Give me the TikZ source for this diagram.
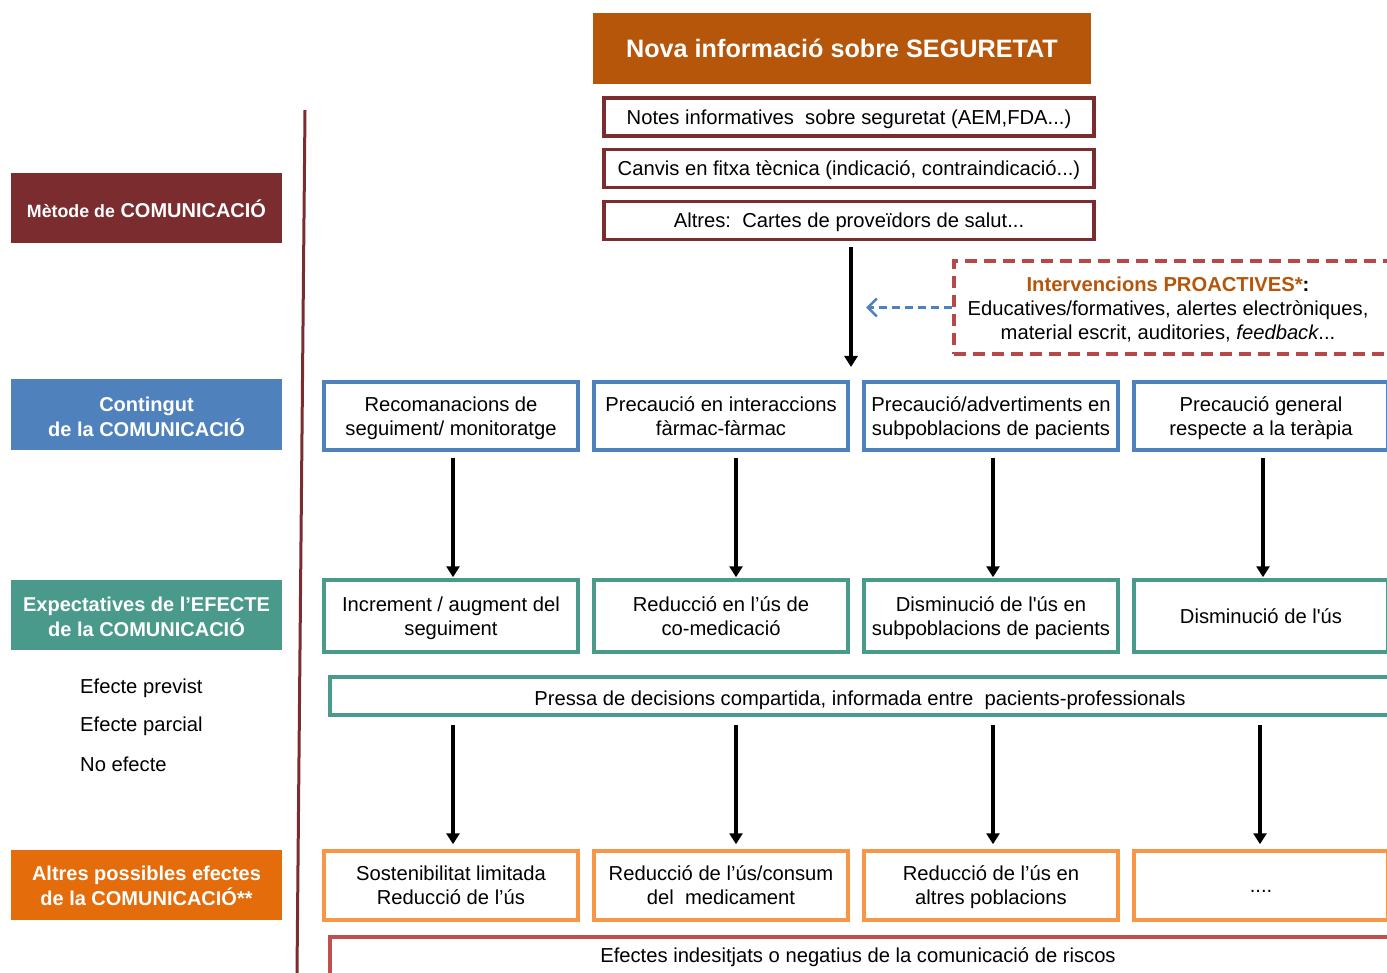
\documentclass[tikz,border=0pt]{standalone}
\usepackage{fontspec}
\setmainfont{Liberation Sans}[Ligatures=TeXOff]
\usetikzlibrary{arrows.meta}

\definecolor{metred}{HTML}{7B2C2F}
\definecolor{conblue}{HTML}{4F81BD}
\definecolor{expteal}{HTML}{4A9A8B}
\definecolor{altorange}{HTML}{E46C0A}
\definecolor{boxorange}{HTML}{F79646}
\definecolor{headbrown}{HTML}{B5560B}
\definecolor{negred}{HTML}{C0504D}
\definecolor{prored}{HTML}{B84848}

% centred lines of text, set a little below the node centre
\newcommand\tl[2][-2.5pt]{\raisebox{#1}[\height][\depth]{\begin{tabular}{@{}c@{}}#2\end{tabular}}}

\tikzset{
  txt/.style={font=\fontsize{20.2}{24}\selectfont, align=center, inner sep=0pt},
  label/.style={fill=#1, text=white, minimum width=271pt, minimum height=70pt,
    align=center, inner sep=0pt, font=\bfseries\fontsize{20}{24}\selectfont},
  metbox/.style={draw=metred, line width=3.5pt, minimum width=490pt, minimum height=38pt, txt},
  colbox/.style={draw=#1, line width=3.5pt, minimum width=254pt, txt},
  widebox/.style={draw=#1, line width=3.5pt, minimum height=38pt},
  flow/.style={line width=3.5pt, -{Triangle[width=13pt,length=11pt]}},
}

\begin{document}
\begin{tikzpicture}[x=1pt,y=-1pt]
\useasboundingbox (0,0) rectangle (1387,973);
\clip (0,0) rectangle (1387,973);

% header
\node[fill=headbrown, text=white, minimum width=498pt, minimum height=71pt, inner sep=0pt,
  font=\bfseries\fontsize{25.2}{30}\selectfont] (head) at (842,48.5) {Nova informació sobre SEGURETAT};

% divider between the row titles and the diagram
\draw[metred, line width=3pt] (305,110) -- (297,973);

% row titles
\node[label=metred] (lmet) at (146.5,208.5) {{\fontsize{17.8}{24}\selectfont Mètode de} COMUNICACIÓ};
\node[label=conblue] (lcon) at (146.5,414.5) {\tl[-4.5pt]{Contingut\\de la COMUNICACIÓ}};
\node[label=expteal] (lexp) at (146.5,614.5) {\tl[-4.5pt]{Expectatives de l’EFECTE\\de la COMUNICACIÓ}};
\node[label=altorange] (lalt) at (146.5,884.5) {\tl[-4pt]{Altres possibles efectes\\de la COMUNICACIÓ**}};

\node[txt, anchor=west] (eprev) at (80,688) {Efecte previst};
\node[txt, anchor=west] (eparc) at (80,726) {Efecte parcial};
\node[txt, anchor=west] (enoef) at (80,764) {No efecte};

% communication methods
\node[metbox] (m1) at (849,117) {\tl{Notes informatives\ \ sobre seguretat (AEM,FDA...)}};
\node[metbox] (m2) at (849,168.5) {\tl{Canvis en fitxa tècnica (indicació, contraindicació...)}};
\node[metbox] (m3) at (849,220.5) {\tl{Altres:\ \ Cartes de proveïdors de salut...}};
\coordinate (mend) at (851,367);
\draw[flow] (m3.south -| mend) ++(0,6) -- (mend);

% proactive interventions
\node[draw=prored, dashed, dash pattern=on 12pt off 7pt, line width=3.5pt, minimum width=440pt,
  minimum height=93pt, anchor=west, txt] (pro) at (952,307.5) {};
\node[txt] (protxt) at (1168,309) {{\bfseries\color{headbrown}Intervencions PROACTIVES*}\textbf{:}\\
  Educatives/formatives, alertes electròniques,\\material escrit, auditories, \textit{feedback}...};
\coordinate (pend) at (866,307.5);
\draw[conblue, line width=2.5pt, dashed, dash pattern=on 8pt off 5pt,
  -{Straight Barb[length=9pt,width=18pt,line width=2.5pt]}] (pro.west) -- (pend);

% content of the communication
\node[colbox=conblue, minimum height=68pt] (c1) at (451,416) {\tl{Recomanacions de\\seguiment/ monitoratge}};
\node[colbox=conblue, minimum height=68pt] (c2) at (721,416) {\tl{Precaució en interaccions\\fàrmac-fàrmac}};
\node[colbox=conblue, minimum height=68pt] (c3) at (991,416) {\tl{Precaució/advertiments en\\subpoblacions de pacients}};
\node[colbox=conblue, minimum height=68pt] (c4) at (1261,416) {\tl{Precaució general\\respecte a la teràpia}};

% expected effects
\node[colbox=expteal, minimum height=72pt] (e1) at (451,616) {\tl{Increment / augment del\\seguiment}};
\node[colbox=expteal, minimum height=72pt] (e2) at (721,616) {\tl{Reducció en l’ús de\\co-medicació}};
\node[colbox=expteal, minimum height=72pt] (e3) at (991,616) {\tl{Disminució de l'ús en\\subpoblacions de pacients}};
\node[colbox=expteal, minimum height=72pt] (e4) at (1261,616) {\tl{Disminució de l'ús}};

\foreach \i/\x in {1/453,2/736,3/993,4/1263}{
  \draw[flow, shorten <=6pt, shorten >=1pt] (c\i.south -| \x,0) -- (e\i.north -| \x,0);
}

% shared decisions
\node[widebox=expteal, minimum width=1080pt, anchor=west] (shared) at (328,696) {};
\node[txt] (sharedtxt) at (860,698) {\tl{Pressa de decisions compartida, informada entre\ \ pacients-professionals}};

% other possible effects
\node[colbox=boxorange, minimum height=69pt] (a1) at (451,885.5) {\tl{Sostenibilitat limitada\\Reducció de l’ús}};
\node[colbox=boxorange, minimum height=69pt] (a2) at (721,885.5) {\tl{Reducció de l’ús/consum\\del\ \ medicament}};
\node[colbox=boxorange, minimum height=69pt] (a3) at (991,885.5) {\tl{Reducció de l’ús en\\altres poblacions}};
\node[colbox=boxorange, minimum height=69pt] (a4) at (1261,885.5) {\tl{....}};

\foreach \i/\x in {1/453,2/736,3/993,4/1260}{
  \draw[flow, shorten <=8pt, shorten >=5pt] (shared.south -| \x,0) -- (a\i.north -| \x,0);
}

% undesired effects
\node[widebox=negred, minimum width=1080pt, minimum height=44pt, anchor=north west] (neg) at (328,935) {};
\node[txt] (negtxt) at (858,955) {\tl{Efectes indesitjats o negatius de la comunicació de riscos}};
\end{tikzpicture}
\end{document}
